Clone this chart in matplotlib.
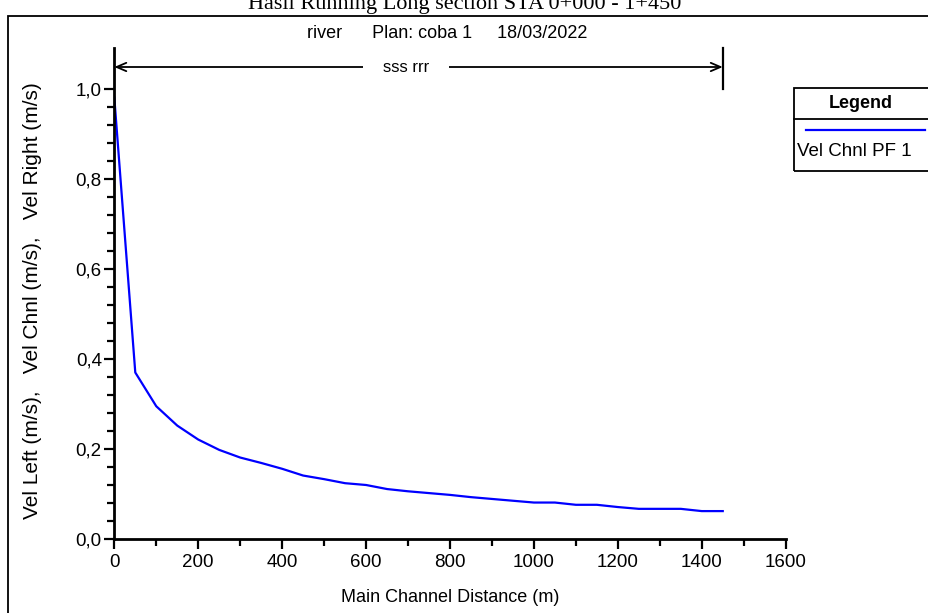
import matplotlib.pyplot as plt
from matplotlib.ticker import FixedLocator, MultipleLocator, FuncFormatter
from matplotlib.patches import Rectangle
from matplotlib.lines import Line2D

plt.rcParams['font.family'] = ['Liberation Sans', 'DejaVu Sans']

# main channel distance (m) and channel velocity (m/s)
distance = [0, 50, 100, 150, 200, 250, 300, 350, 400, 450, 500, 550, 600, 650,
            700, 750, 800, 850, 900, 950, 1000, 1050, 1100, 1150, 1200, 1250,
            1300, 1350, 1400, 1450]
vel_chnl = [0.981, 0.370, 0.295, 0.252, 0.221, 0.198, 0.181, 0.169, 0.156,
            0.141, 0.133, 0.124, 0.120, 0.111, 0.106, 0.102, 0.098, 0.093,
            0.089, 0.085, 0.081, 0.081, 0.076, 0.076, 0.071, 0.067, 0.067,
            0.067, 0.062, 0.062]

reach_start, reach_end = 0, 1450
reach_label = "sss rrr"

fig = plt.figure(figsize=(9.29, 6.13), dpi=100)
W, H = 929, 613

# outer frame, only partly visible
fig.patches.append(Rectangle((8 / W, -0.1), 1.2, 1 - 16 / H + 0.1,
                             transform=fig.transFigure, fill=False,
                             lw=1.3, ec='black'))
# page title above the frame, cut by the page edge as in the original
fig.text(0.5, 1 - 4 / H, "Hasil Running Long section STA 0+000 - 1+450",
         family=['Liberation Serif'], fontsize=16, ha='center', va='center')

ax = fig.add_axes([114.3 / W, 1 - 539 / H, (785.7 - 114.3) / W, (539 - 48) / H])
ax.plot(distance, vel_chnl, color='#0000ff', lw=1.6)

ax.set_xlim(0, 1600)
ax.set_ylim(0, 1.091)
ax.xaxis.set_major_locator(MultipleLocator(200))
ax.xaxis.set_minor_locator(MultipleLocator(100))
ax.yaxis.set_major_locator(FixedLocator([0, 0.2, 0.4, 0.6, 0.8, 1.0]))
ax.yaxis.set_minor_locator(FixedLocator([i * 0.04 for i in range(26)]))
ax.yaxis.set_major_formatter(FuncFormatter(lambda v, p: f"{v:.1f}".replace('.', ',')))

for s in ['top', 'right']:
    ax.spines[s].set_visible(False)
for s in ['left', 'bottom']:
    ax.spines[s].set_linewidth(2)
ax.tick_params(which='major', length=7, width=1.6, labelsize=13.5, pad=2)
ax.tick_params(which='minor', length=5, width=1.6)
ax.tick_params(axis='x', pad=4)

ax.set_xlabel("Main Channel Distance (m)", fontsize=13, labelpad=13)
ax.set_ylabel("Vel Left (m/s),   Vel Chnl (m/s),   Vel Right (m/s)", fontsize=15)
ax.yaxis.set_label_coords(-0.107, 0.485)
fig.text(447 / W, 1 - 33 / H, "river      Plan: coba 1     18/03/2022",
         fontsize=13, ha='center', va='center')

# reach dimension line
ya = (539 - 67) / (539 - 48)
ax.annotate('', xy=(reach_start, ya), xytext=(reach_end, ya),
            xycoords=('data', 'axes fraction'),
            arrowprops=dict(arrowstyle='<->,head_length=0.7,head_width=0.3',
                            lw=1.3, color='black', shrinkA=0, shrinkB=0),
            annotation_clip=False)
ax.plot([reach_end, reach_end], [1.0, 1.091], color='black', lw=1.6,
        clip_on=False)
ax.text((reach_start + reach_end) / 2 - 30, ya, reach_label,
        transform=ax.get_xaxis_transform(), ha='center', va='center',
        fontsize=12, bbox=dict(fc='white', ec='none', pad=14))

# legend box
lx0, lx1, ly0, ly1, lmid = 794, 935, 88, 171, 119
fig.patches.append(Rectangle((lx0 / W, 1 - ly1 / H), (lx1 - lx0) / W, (ly1 - ly0) / H,
                             transform=fig.transFigure, fill=False, lw=1.3, ec='black'))
fig.lines.append(Line2D([lx0 / W, lx1 / W], [1 - lmid / H] * 2,
                        transform=fig.transFigure, color='black', lw=1.3))
fig.text(861 / W, 1 - 103 / H, "Legend", fontsize=13, fontweight='bold',
         ha='center', va='center')
fig.lines.append(Line2D([806 / W, 925 / W], [1 - 130 / H] * 2,
                        transform=fig.transFigure, color='#0000ff', lw=1.6))
fig.text(797 / W, 1 - 152 / H, "Vel Chnl PF 1", fontsize=13.5,
         ha='left', va='center')

fig.savefig("out.png", dpi=100)
